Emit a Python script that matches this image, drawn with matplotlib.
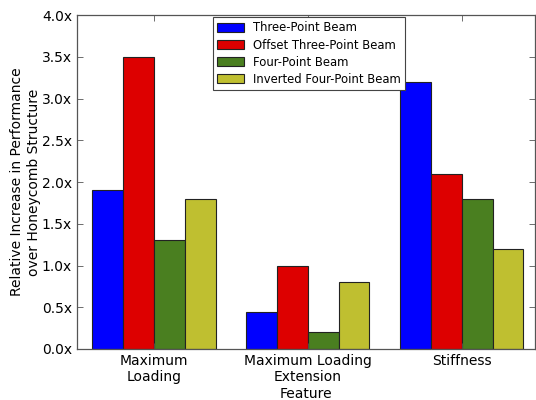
import matplotlib
matplotlib.use("Agg")
import matplotlib.pyplot as plt
import numpy as np

categories = ["Maximum\nLoading", "Maximum Loading\nExtension", "Stiffness"]
series_names = ["Three-Point Beam", "Offset Three-Point Beam", "Four-Point Beam", "Inverted Four-Point Beam"]
three_point = [1.9, 0.44, 3.2]
offset_three_point = [3.5, 1.0, 2.1]
four_point = [1.3, 0.2, 1.8]
inverted_four_point = [1.8, 0.8, 1.2]
y_ticks = [0.0, 0.5, 1.0, 1.5, 2.0, 2.5, 3.0, 3.5, 4.0]
y_tick_labels = ["0.0x", "0.5x", "1.0x", "1.5x", "2.0x", "2.5x", "3.0x", "3.5x", "4.0x"]

colors = ["#0000ff", "#dd0000", "#4a7f20", "#bfbf30"]
series = [three_point, offset_three_point, four_point, inverted_four_point]

plt.rcParams['font.family'] = ['DejaVu Sans']
fig = plt.figure(figsize=(5.36, 4.0), dpi=100)
ax = fig.add_axes([0.1437, 0.1275, 0.8543, 0.835])

x = np.arange(len(categories))
w = 0.2
for j, (vals, name, c) in enumerate(zip(series, series_names, colors)):
    ax.bar(x + j * w, vals, w, align='edge', color=c, edgecolor='#222222',
           linewidth=0.8, label=name)

ax.set_xlim(-0.1, 2.875)
ax.set_ylim(0, 4.0)
ax.set_xticks(x + 2 * w)
ax.set_xticklabels(categories, fontsize=10)
ax.set_yticks(y_ticks)
ax.set_yticklabels(y_tick_labels, fontsize=10)
ax.tick_params(direction='in', top=True, right=True, length=4, width=0.6, color='#555555')
for s in ax.spines.values():
    s.set_color('#555555')
    s.set_linewidth(0.9)
ax.set_xlabel("Feature", fontsize=10, labelpad=2)
ax.set_ylabel("Relative Increase in Performance\nover Honeycomb Structure", fontsize=10, labelpad=1)

leg = ax.legend(loc='upper left', bbox_to_anchor=(0.297, 0.993), fontsize=8.4,
                fancybox=False, framealpha=1, edgecolor='#444444',
                handlelength=2.3, handleheight=0.8, borderpad=0.35, labelspacing=0.35,
                handletextpad=0.8, borderaxespad=0.0)
leg.get_frame().set_linewidth(0.8)

fig.savefig("out.png", dpi=100)
